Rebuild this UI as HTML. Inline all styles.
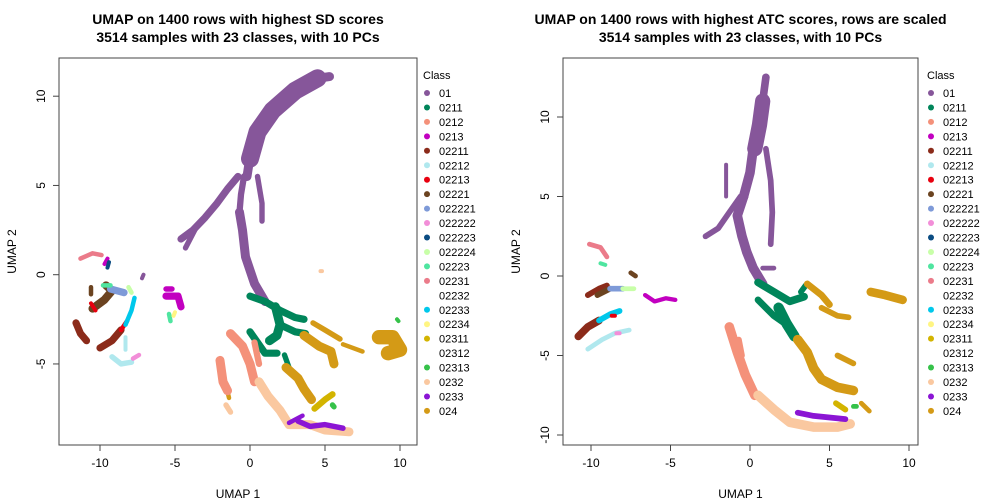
<!DOCTYPE html>
<html><head><meta charset="utf-8"><style>
body{margin:0;background:#fff;}
svg{display:block;font-family:"Liberation Sans",Arial,sans-serif;}
</style></head><body>
<svg id="c" width="1008" height="504"></svg>
<script>
const classNames=["01","0211","0212","0213","02211","02212","02213","02221","022221","022222","022223","022224","02223","02231","02232","02233","02234","02311","02312","02313","0232","0233","024"];
const classColors=["#86569A","#00855A","#F4917A","#C200C0","#8B2B1A","#B0E8EE","#E8000F","#6B4320","#7E9AD8","#F28ED8","#0B4C82","#C8FFA8","#4FE5A0","#EB7B8A","#FFFFFF","#00C8EB","#FFF582","#D3B400","#FFFFFF","#36C24A","#FAC8A0","#8B15D4","#D49A16"];
const xTicks=[-10,-5,0,5,10];
const leftYTicks=[-5,0,5,10];
const rightYTicks=[-10,-5,0,5,10];
// series: [class, width in data units, [x,y,...]]
const leftSeries=[
["01",1.0,[1,-1.5,0.3,-0.5,-0.3,1,-0.5,2.5,-0.7,3.5]],
["01",0.7,[-0.7,3.5,-0.6,4.5,-0.4,5.5]],
["01",0.6,[0.5,5.5,0.8,4,0.8,3]],
["01",2.0,[0,6.5,0.5,8,1.5,9.2,3,10.3,4.5,11]],
["01",1.0,[4.5,11,5.3,11.1]],
["01",0.8,[-0.8,5.5,-1.5,4.8,-2.2,4,-3,3.2,-3.8,2.5,-4.6,2]],
["01",0.6,[-3.5,2.8,-4.3,1.5]],
["01",1.0,[0,6.6,-0.2,5.5]],
["0211",0.8,[0,-1.2,1,-1.5,2,-2,3,-2.4,3.6,-2.5]],
["0211",1.0,[1.7,-1.8,2,-2.8,1.8,-3.4,1.3,-3.7]],
["0211",0.8,[2,-2.8,3,-3.2,3.7,-3.3]],
["0211",0.8,[0,-3.2,0.5,-3.8,1,-4.4,1.8,-4.4]],
["0211",0.6,[2.3,-4.5,2.6,-5.2]],
["024",0.6,[4.2,-2.7,5,-3.1,6,-3.6]],
["024",1.0,[3.6,-3.4,4.6,-4,5.4,-4.3,5.6,-5]],
["024",1.0,[2.4,-5.2,3.2,-5.8,3.6,-6.4,4.1,-7]],
["024",1.6,[8.6,-3.5,9.5,-3.5,10,-4.2,9.2,-4.4]],
["024",0.5,[6.2,-3.9,7.5,-4.3]],
["024",0.5,[-1.6,-6.2,-1.4,-6.9]],
["0212",1.0,[-2,-4.8,-1.8,-6,-1.5,-6.5]],
["0212",1.0,[-1.3,-3.3,-0.5,-4,0,-5,0.3,-6]],
["0212",0.7,[0.3,-3.8,0.6,-5]],
["0232",1.0,[0.6,-6,1.2,-6.8,2,-7.6,2.6,-8.4,4,-8.4,5,-8.7,6.6,-8.8]],
["0232",0.6,[-1.6,-7.3,-1.3,-7.7]],
["0233",0.6,[3.2,-8.2,4,-8.5,5,-8.4,6.2,-8.6]],
["0233",0.5,[2.6,-8.3,3.5,-7.9]],
["02311",0.7,[4.3,-7.5,5,-7,5.5,-6.7]],
["02313",0.6,[5.5,-7.3,5.6,-7.4]],
["02313",0.4,[9.8,-2.5,9.9,-2.6]],
["02231",0.5,[-11.3,0.9,-10.5,1.2,-9.9,1.1]],
["0213",0.3,[-9.7,0.6,-9.5,0.9]],
["022223",0.3,[-9.5,0.4,-9.4,0.7]],
["02221",0.9,[-10.5,-1.9,-9.7,-1.4,-9.2,-0.9,-9.6,-0.6]],
["02221",0.5,[-10.6,-0.7,-10.6,-1.1]],
["022221",0.8,[-9.3,-0.8,-8.4,-1]],
["022224",0.5,[-8.1,-0.7,-7.9,-1]],
["02223",0.5,[-9.8,-0.6,-9.3,-0.6]],
["02213",0.4,[-10.6,-1.6,-10.3,-2]],
["02211",0.8,[-11.6,-2.7,-11.3,-3.3,-10.9,-3.7]],
["02211",0.8,[-10,-4.1,-9.2,-3.7,-8.6,-3.1]],
["02213",0.5,[-8.6,-3.1,-8.2,-2.6]],
["02233",0.5,[-8.3,-2.8,-7.9,-2.0,-7.7,-1.3]],
["02212",0.6,[-9.2,-4.6,-8.6,-5,-7.9,-4.9]],
["02212",0.4,[-8.3,-4.2,-8.3,-3.5]],
["022222",0.5,[-7.8,-4.7,-7.4,-4.5]],
["0213",0.8,[-5.6,-1.2,-4.8,-1.2,-4.6,-1.8]],
["0213",0.6,[-5.6,-0.8,-5.2,-0.8]],
["02223",0.5,[-5.4,-2.2,-5.3,-2.6]],
["02234",0.4,[-5,-2.1,-5.1,-2.3]],
["01",0.3,[-7.1,0,-7.2,-0.2]],
["0232",0.4,[4.7,0.2,4.8,0.2]]
];
const rightSeries=[
["01",1.0,[0.8,-0.5,0.2,0.5,-0.2,1.5,-0.5,2.5,-0.8,3.8,-0.4,5]],
["01",1.0,[-0.4,5,0,6.5,0.2,8]],
["01",1.6,[0.3,8,0.6,9.5,0.8,11]],
["01",0.8,[0.8,11,1,12.5]],
["01",0.6,[1,8,1.3,6,1.4,4,1.3,2]],
["01",0.6,[-0.6,5,-1.3,4,-2,3,-2.8,2.5]],
["01",0.4,[-1.5,5,-1.5,7]],
["01",0.5,[0.8,0.5,1.5,0.5]],
["0211",0.8,[0.5,-0.4,1.5,-1,2.5,-1.6,3.4,-1.3]],
["0211",1.1,[1.8,-2,2.3,-3,2.8,-3.8]],
["0211",0.7,[0.5,-1.5,1.5,-2.5,2.5,-3.2]],
["0211",0.6,[3.2,-1,3.5,-0.6]],
["024",0.7,[3.6,-0.5,4.5,-1.2,5,-1.8]],
["024",0.6,[4.5,-2,5.5,-2.5,6.2,-2.6]],
["024",1.0,[3,-4,3.6,-4.8,4,-5.8,4.5,-6.5,5.5,-7,6.5,-7.2]],
["024",0.9,[7.6,-1,8.5,-1.2,9.6,-1.5]],
["024",0.6,[5.5,-5,6.5,-5.5]],
["024",0.5,[7,-8,7.5,-8.5]],
["0212",1.0,[-1.3,-3.2,-0.8,-4.8,-0.3,-6.2,0.3,-7.5]],
["0212",0.6,[-0.7,-4,-0.5,-5]],
["0232",1.0,[0.5,-7.5,1.5,-8.4,2.5,-9.2,4,-9.5,5.5,-9.5,6.3,-9.3]],
["0233",0.6,[3,-8.6,4,-8.8,5,-8.9,6,-9]],
["02311",0.6,[5.4,-8,6,-8.4]],
["02313",0.5,[6.5,-8.2,6.7,-8.2]],
["02231",0.5,[-10.1,2.0,-9.4,1.8,-9,1.2]],
["02223",0.4,[-9.4,0.8,-9.1,0.7]],
["02211",0.6,[-10.2,-1.2,-9.5,-0.8,-9,-0.6]],
["02221",0.6,[-9.6,-1.2,-8.8,-0.8]],
["022221",0.6,[-8.8,-0.8,-8,-0.8]],
["022224",0.5,[-8,-0.8,-7.3,-0.8]],
["02221",0.5,[-7.5,0.2,-7.2,0]],
["0213",0.45,[-6.6,-1.2,-6,-1.6,-5.3,-1.4,-4.7,-1.5]],
["02211",0.8,[-10.8,-3.8,-10.2,-3.2,-9.5,-2.8]],
["02233",0.6,[-9.5,-2.8,-8.8,-2.4,-8.2,-2.2]],
["02212",0.5,[-10.2,-4.6,-9.3,-4,-8.5,-3.6,-7.6,-3.4]],
["02213",0.4,[-8.7,-2.5,-8.5,-2.5]],
["022222",0.4,[-8.4,-3.6,-8.2,-3.6]]
];
const svg=document.getElementById('c');
const NS="http://www.w3.org/2000/svg";
function mk(t,a,p){const e=document.createElementNS(NS,t);for(const k in a)e.setAttribute(k,a[k]);(p||svg).appendChild(e);return e;}
function panel(P,series,yTicks,titleLines,nm){
  const g=mk('g',{});
  
  
  const sx=v=>P.x0+(v-P.xa)*P.kx, sy=v=>P.y0-(v-P.ya)*P.ky;
  series.forEach(s=>{
    const ci=classNames.indexOf(s[0]);const col=classColors[ci];
    const pts=[];for(let i=0;i<s[2].length;i+=2)pts.push(sx(s[2][i]).toFixed(1)+','+sy(s[2][i+1]).toFixed(1));
    const pl=mk('polyline',{points:pts.join(' '),fill:'none',stroke:col,'stroke-width':Math.max(4,s[1]*P.kx*0.6),'stroke-linecap':'round','stroke-linejoin':'round'},g);
    
    
  });
  const box=mk('rect',{x:P.bx,y:P.by,width:P.bw,height:P.bh,fill:'none',stroke:'#444','stroke-width':1},g);
  
  
  const by2=P.by+P.bh;
  mk('line',{x1:sx(xTicks[0]),x2:sx(xTicks[xTicks.length-1]),y1:by2,y2:by2,stroke:'#444'},g);
  xTicks.forEach(t=>{
    mk('line',{x1:sx(t),x2:sx(t),y1:by2,y2:by2+6,stroke:'#444'},g);
    const tx=mk('text',{x:sx(t),y:by2+22,'font-size':12,'text-anchor':'middle',fill:'#000'},g);tx.textContent=t;
    
    
  });
  yTicks.forEach(t=>{
    mk('line',{x1:P.bx,x2:P.bx-6,y1:sy(t),y2:sy(t),stroke:'#444'},g);
    const tx=mk('text',{x:0,y:0,'font-size':12,'text-anchor':'middle',fill:'#000',transform:`translate(${P.bx-14},${sy(t)}) rotate(-90)`},g);tx.textContent=t;
    
    
  });
  const cx=P.bx+P.bw/2;
  const xl=mk('text',{x:cx,y:498,'font-size':12,'text-anchor':'middle'},g);xl.textContent='UMAP 1';
  
  
  const yl=mk('text',{x:0,y:0,'font-size':12,'text-anchor':'middle',transform:`translate(${P.bx-43},${P.by+P.bh/2}) rotate(-90)`},g);yl.textContent='UMAP 2';
  
  
  titleLines.forEach((l,i)=>{
    const t=mk('text',{x:cx,y:24+i*18,'font-size':14,'font-weight':'bold','text-anchor':'middle'},g);t.textContent=l;
    
    
  });
  const lt=mk('text',{x:P.lx,y:79,'font-size':11},g);lt.textContent='Class';
  
  
  classNames.forEach((c,i)=>{
    const y=93+i*14.45;
    const le=mk('g',{},g);
    
    
    mk('circle',{cx:P.lx+4,cy:y,r:3,fill:classColors[i]},le);
    const t=mk('text',{x:P.lx+16,y:y+4,'font-size':11},le);t.textContent=c;
  });
}
panel({bx:59,by:58,bw:358,bh:387,xa:0,x0:250,kx:15,ya:0,y0:274.7,ky:17.85,lx:423},leftSeries,leftYTicks,
 ["UMAP on 1400 rows with highest SD scores","3514 samples with 23 classes, with 10 PCs"],'left-umap-panel');
panel({bx:563,by:58,bw:355,bh:387,xa:0,x0:750,kx:15.9,ya:0,y0:276,ky:15.9,lx:927},rightSeries,rightYTicks,
 ["UMAP on 1400 rows with highest ATC scores, rows are scaled","3514 samples with 23 classes, with 10 PCs"],'right-umap-panel');
</script>
</body></html>
